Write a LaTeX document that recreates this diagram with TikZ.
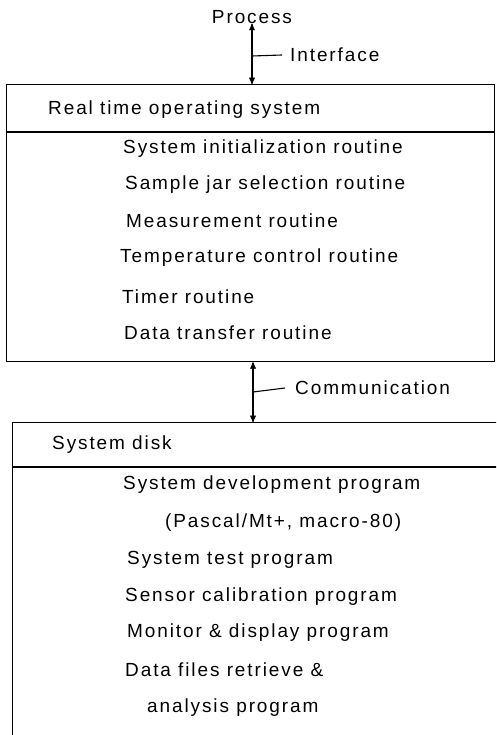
\documentclass[tikz,border=0pt]{standalone}
\usepackage{fontspec}
\setmainfont{Liberation Sans}[LetterSpace=10]
\usepackage{tikz}
\usetikzlibrary{arrows}

\tikzset{
  txt/.style={anchor=west,inner sep=0pt,font=\fontsize{19}{22}\selectfont},
  frame/.style={draw,line width=1.3pt,anchor=north west,inner sep=0pt}
}

\begin{document}
\begin{tikzpicture}[x=1pt,y=-1pt]
		\path[use as bounding box,clip] (0,0) rectangle (496,735);
		%
		\node[anchor=center,inner sep=0pt,font=\fontsize{19}{22}\selectfont] (proc) at (252,17) {Process};
		\node[frame,minimum width=488pt,minimum height=277pt] (rtos) at (6,84) {};
		\node[frame,minimum width=500pt,minimum height=400pt] (disk) at (12,422) {};
		\draw[line width=1.3pt] (rtos.west |- 0,132) -- (rtos.east |- 0,132);
		\draw[line width=1.3pt] (disk.west |- 0,467) -- (disk.east |- 0,467);
		%
		\node[txt] (rtosname) at (48,110) {Real time operating system};
		\node[txt] (r1) at (123,149) {System initialization routine};
		\node[txt] (r2) at (125,185) {Sample jar selection routine};
		\node[txt] (r3) at (126,221) {Measurement routine};
		\node[txt] (r4) at (120,258) {Temperature control routine};
		\node[txt] (r5) at (122,297) {Timer routine};
		\node[txt] (r6) at (124,333) {Data transfer routine};
		%
		\node[txt] (diskname) at (52,445) {System disk};
		\node[txt] (d1) at (123,485) {System development program};
		\node[txt] (d2) at (165,523) {(Pascal/Mt+, macro-80)};
		\node[txt] (d3) at (127,560) {System test program};
		\node[txt] (d4) at (125,597) {Sensor calibration program};
		\node[txt] (d5) at (127,633) {Monitor \& display program};
		\node[txt] (d6) at (125,670) {Data files retrieve \&};
		\node[txt] (d7) at (147,708) {analysis program};
		%
		\coordinate (ifc) at (252,56);
		\coordinate (com) at (253,392);
		\node[txt] (ifclabel) at (290,55) {Interface};
		\node[txt] (comlabel) at (295,388) {Communication};
		%
		\path[<->,>=stealth',line width=1.3pt]
		(proc.south) edge (rtos.north -| proc.south)
		(rtos.south -| com) edge (disk.north -| com);
		\draw[line width=1.1pt] (ifc) -- ([xshift=-8pt]ifclabel.west);
		\draw[line width=1.1pt] (com) -- ([xshift=-10pt]comlabel.west);
		\end{tikzpicture}
\end{document}
